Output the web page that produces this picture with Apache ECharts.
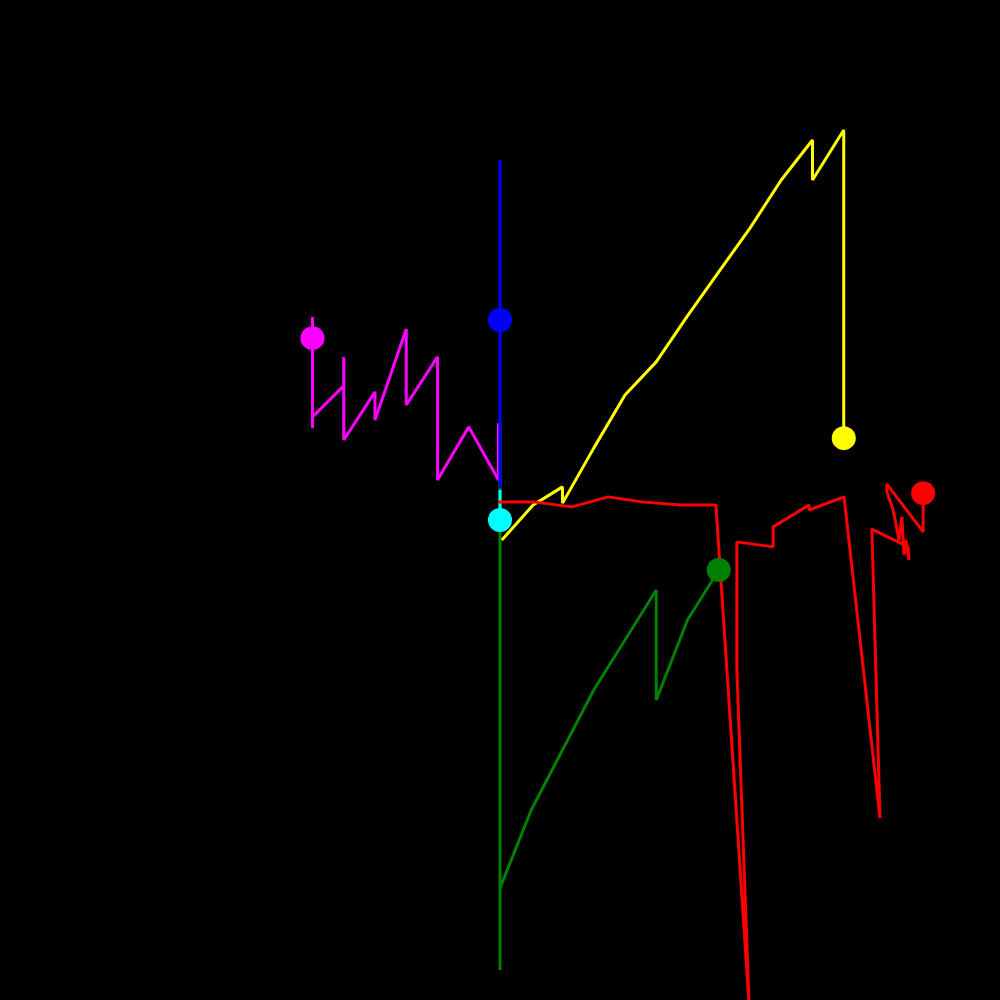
<!DOCTYPE html>
<html>
<head>
<meta charset="utf-8">
<script src="https://cdn.jsdelivr.net/npm/echarts@6/dist/echarts.min.js"></script>
<style>html,body{margin:0;padding:0;background:#000;}#c{width:1000px;height:1000px;}</style>
</head>
<body>
<div id="c"></div>
<script>
// Path data: [x, y] values (each series ends at its marked point)
const magentaPath = [[-0.05,2.46],[-0.05,0.64],[-1,2.34],[-2,0.64],[-2,4.58],[-3,3.04],[-3,5.47],[-4,2.56],[-4,3.46],[-5,1.92],[-5,4.58],[-5,3.65],[-6,2.66],[-6,2.3],[-6,5.86],[-6,5.18]];
const bluePath = [[0,0.38],[0,10.88],[0,5.76]];
const cyanPath = [[0,0.32],[0,-0.64]];
const greenPath = [[0,-3.52],[0,2.5],[0,-15.04],[0,-12.42],[1,-9.92],[2,-8],[3,-6.08],[4,-4.48],[5,-2.88],[5,-6.4],[6,-3.84],[7,-2.24]];
const yellowPath = [[0.06,-1.28],[1.06,-0.16],[2,0.42],[2,-0.1],[3,1.66],[4,3.36],[5,4.42],[6,5.89],[7,7.3],[8,8.7],[9,10.24],[10,11.52],[10,10.24],[11,11.84],[11,2.72],[11,4.9],[11,1.98]];
const redPath = [[-0.06,-0.06],[1.06,-0.06],[2.3,-0.22],[3.46,0.1],[4.54,-0.06],[5.76,-0.16],[6.91,-0.16],[7.97,-16.13],[7.58,-5.44],[7.58,-1.34],[8.74,-1.5],[8.74,-0.86],[9.89,-0.16],[9.89,-0.32],[11.01,0.1],[12.16,-10.18],[11.9,-0.93],[13.06,-1.5],[13.09,-1.92],[12.99,-1.28],[12.93,-1.76],[12.86,-0.54],[12.77,-1.28],[12.58,-0.32],[12.38,0.26],[12.38,0.51],[13.54,-1.02],[13.54,0.22]];

const seriesDefs = [
  {name:'green', color:'#008000', data:greenPath},
  {name:'magenta', color:'#ff00ff', data:magentaPath},
  {name:'blue', color:'#0000ff', data:bluePath},
  {name:'cyan', color:'#00ffff', data:cyanPath},
  {name:'yellow', color:'#ffff00', data:yellowPath},
  {name:'red', color:'#ff0000', data:redPath}
];

const series = [];
seriesDefs.forEach(s => {
  series.push({
    type:'line', name:s.name, data:s.data, showSymbol:false, symbol:'none',
    lineStyle:{color:s.color, width:3}, itemStyle:{color:s.color},
    clip:true, z:2, silent:true
  });
});
seriesDefs.forEach(s => {
  series.push({
    type:'scatter', name:s.name+'-end', data:[s.data[s.data.length-1]],
    symbol:'circle', symbolSize:24, itemStyle:{color:s.color, opacity:1}, z:5, silent:true
  });
});

const chart = echarts.init(document.getElementById('c'), null, {renderer:'canvas'});
chart.setOption({
  backgroundColor:'#000000',
  animation:false,
  grid:{left:0, right:0, top:0, bottom:0},
  xAxis:{type:'value', min:-16, max:16, show:false},
  yAxis:{type:'value', min:-16, max:16, show:false},
  series: series
});
</script>
</body>
</html>
